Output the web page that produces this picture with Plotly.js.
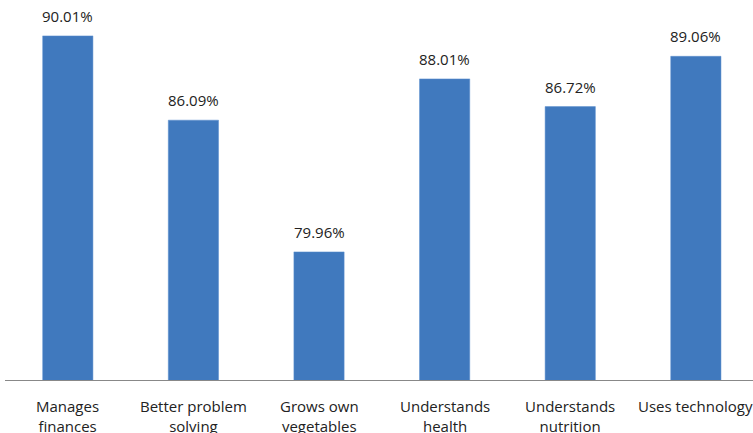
<!DOCTYPE html>
<html><head><meta charset="utf-8">
<script src="https://cdn.plot.ly/plotly-3.0.1.min.js"></script>
<style>html,body{margin:0;padding:0;background:#fff;}#chart{width:753px;height:433px;}</style>
</head><body><div id="chart"></div>
<script>
const categories = ["Manages<br>finances", "Better problem<br>solving", "Grows own<br>vegetables", "Understands<br>health", "Understands<br>nutrition", "Uses technology"];
const values = [90.01, 86.09, 79.96, 88.01, 86.72, 89.06];
const labels = values.map(v => v.toFixed(2) + "%");
const FONT = "Open Sans, Noto Sans, sans-serif";
const idx = categories.map((c, i) => i);

const valueNotes = idx.map(i => ({
  x: i, y: values[i], xref: "x", yref: "y",
  text: labels[i], showarrow: false, yanchor: "bottom", yshift: 8,
  font: {family: FONT, size: 15, color: "#222"}
}));
const catNotes = idx.map(i => ({
  x: i, y: 0, xref: "x", yref: "paper",
  text: categories[i], showarrow: false, yanchor: "top", yshift: -14,
  font: {family: FONT, size: 15, color: "#222"}
}));

Plotly.newPlot("chart", [{
  type: "bar",
  x: idx,
  y: values,
  width: 0.4,
  marker: {color: "#4079BE", line: {color: "#5A8FCF", width: 0.5}},
  hoverinfo: "none"
}], {
  width: 753, height: 433,
  margin: {l: 5, r: 0, t: 0, b: 53},
  paper_bgcolor: "#fff", plot_bgcolor: "#fff",
  showlegend: false,
  annotations: valueNotes.concat(catNotes),
  xaxis: {
    range: [-0.5, 5.455],
    showticklabels: false,
    showline: true, linecolor: "#888", linewidth: 1,
    showgrid: false, zeroline: false, ticks: ""
  },
  yaxis: {
    range: [74, 91.68],
    visible: false, showgrid: false, zeroline: false
  }
}, {staticPlot: true});
</script></body></html>
